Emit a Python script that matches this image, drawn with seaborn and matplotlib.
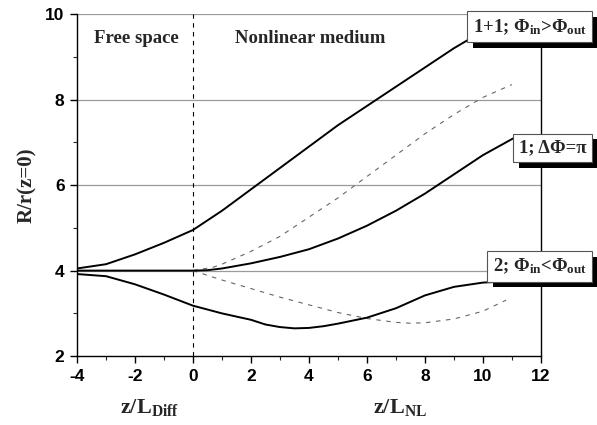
import numpy as np
import pandas as pd
import seaborn as sns
import matplotlib.pyplot as plt
from matplotlib.ticker import MultipleLocator
import matplotlib.patheffects as pe

# Beam radius ratio R/r(z=0) along propagation (free space z<0, nonlinear medium z>0)
x_in_in = [-4, -3, -2, -1, 0, 1, 2, 3, 4, 5, 6, 7, 8, 9, 10]
r_in_in = [4.05, 4.15, 4.38, 4.65, 4.95, 5.4, 5.9, 6.4, 6.9, 7.4, 7.85, 8.3, 8.75, 9.2, 9.6]

x_pi = [-4, -2, 0, 0.5, 1, 2, 3, 4, 5, 6, 7, 8, 9, 10, 11.2]
r_pi = [4.0, 4.0, 4.0, 4.01, 4.05, 4.17, 4.32, 4.5, 4.75, 5.05, 5.4, 5.8, 6.25, 6.7, 7.15]

x_pi_d = [0, 0.7, 1, 2, 3, 4, 5, 6, 7, 8, 9, 10, 11]
r_pi_d = [4.0, 4.08, 4.15, 4.45, 4.8, 5.25, 5.7, 6.2, 6.7, 7.2, 7.65, 8.05, 8.35]

x_out = [-4, -3, -2, -1, 0, 1, 2, 2.5, 3, 3.5, 4, 4.5, 5, 6, 7, 8, 9, 10, 10.6]
r_out = [3.92, 3.87, 3.68, 3.44, 3.18, 3.0, 2.85, 2.74, 2.68, 2.65, 2.66, 2.7, 2.76, 2.9, 3.12, 3.42, 3.62, 3.72, 3.74]

x_out_d = [0, 1, 2, 3, 4, 5, 6, 7, 7.5, 8, 9, 10, 10.8]
r_out_d = [4.0, 3.78, 3.58, 3.38, 3.2, 3.02, 2.88, 2.79, 2.77, 2.78, 2.87, 3.05, 3.31]

x_ticks = [-4, -2, 0, 2, 4, 6, 8, 10, 12]
y_ticks = [2, 4, 6, 8, 10]

frames = []
for name, xs, ys in [("a", x_in_in, r_in_in), ("b", x_pi, r_pi), ("c", x_out, r_out),
                     ("bd", x_pi_d, r_pi_d), ("cd", x_out_d, r_out_d)]:
    frames.append(pd.DataFrame({"z": xs, "R": ys, "curve": name}))
df = pd.concat(frames, ignore_index=True)

sns.set_style("white")
plt.rcParams["mathtext.fontset"] = "custom"
plt.rcParams["mathtext.rm"] = "Liberation Serif:bold"
plt.rcParams["mathtext.bf"] = "Liberation Serif:bold"
plt.rcParams["mathtext.it"] = "Liberation Serif:bold"
plt.rcParams["axes.unicode_minus"] = False

fig = plt.figure(figsize=(5.97, 4.25), dpi=100)
ax = fig.add_axes([0.129, 0.162, 0.777, 0.805])

# horizontal grid lines
for yv in y_ticks[1:]:
    ax.axhline(yv, color="#9a9a9a", lw=0.9, zorder=0)

solid = df[df.curve.isin(["a", "b", "c"])]
dashed = df[df.curve.isin(["bd", "cd"])]
sns.lineplot(data=solid, x="z", y="R", units="curve", estimator=None, sort=False,
             color="black", lw=1.4, ax=ax, zorder=3)
sns.lineplot(data=dashed, x="z", y="R", units="curve", estimator=None, sort=False,
             color="#666666", lw=0.8, ax=ax, zorder=2, dashes=False, linestyle=(0, (4, 5)))

ax.axvline(0, color="black", lw=0.8, ls=(0, (4, 4)), zorder=1)

ax.set_xlim(-4, 12)
ax.set_ylim(2, 10)
ax.set_xticks(x_ticks)
ax.set_yticks(y_ticks)
ax.xaxis.set_minor_locator(MultipleLocator(1))
ax.yaxis.set_minor_locator(MultipleLocator(1))
ax.tick_params(which="major", direction="out", length=5, width=1, colors="black",
               bottom=True, left=True, pad=4)
ax.tick_params(which="minor", direction="out", length=3, width=0.8, bottom=True, left=True)
for lab in ax.get_xticklabels() + ax.get_yticklabels():
    lab.set_fontfamily("Liberation Sans")
    lab.set_fontweight("bold")
    lab.set_fontsize(12.5)

for s in ["left", "bottom", "right"]:
    ax.spines[s].set_visible(True)
    ax.spines[s].set_color("black")
    ax.spines[s].set_linewidth(1.0)
ax.spines["top"].set_visible(False)

ax.set_xlabel("")
ax.set_ylabel("R/r(z=0)", fontfamily="Liberation Serif", fontweight="bold", fontsize=15, labelpad=6)

serif = dict(fontfamily="Liberation Serif", fontweight="bold")
fig.text(150 / 597, 1 - 407 / 425, r"z/L$_{\mathrm{Diff}}$", ha="center", va="center", fontsize=16, **serif)
fig.text(400 / 597, 1 - 407 / 425, r"z/L$_{\mathrm{NL}}$", ha="center", va="center", fontsize=16, **serif)

ax.text(-1.96, 9.42, "Free space", ha="center", va="center", fontsize=13.5, **serif)
ax.text(4.03, 9.42, "Nonlinear medium", ha="center", va="center", fontsize=13.5, **serif)

shadow = [pe.withSimplePatchShadow(offset=(4, -4), shadow_rgbFace="black", alpha=1.0)]
for ty, s in [(9.7, r"1+1; Φ$_{\mathrm{in}}$>Φ$_{\mathrm{out}}$"),
              (6.87, r"1; ΔΦ=π"),
              (4.1, r"2; Φ$_{\mathrm{in}}$<Φ$_{\mathrm{out}}$")]:
    t = ax.text(13.58, ty, s, ha="right", va="center", fontsize=13.5, clip_on=False, zorder=10,
                bbox=dict(boxstyle="square,pad=0.3", fc="white", ec="#555555", lw=0.8), **serif)
    t.get_bbox_patch().set_path_effects(shadow)

fig.savefig("out.png", dpi=100)
